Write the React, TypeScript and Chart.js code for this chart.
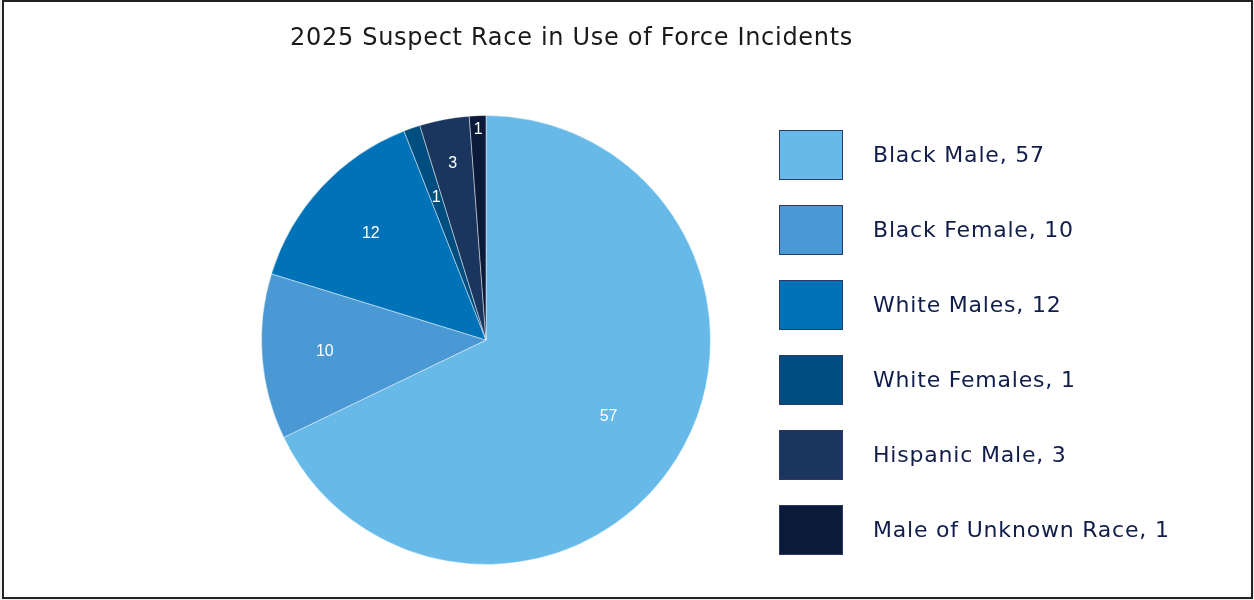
import React, { useEffect, useRef } from "react";
import { Chart, registerables } from "chart.js";

Chart.register(...registerables);

const categories = [
  "Black Male",
  "Black Female",
  "White Males",
  "White Females",
  "Hispanic Male",
  "Male of Unknown Race",
];
const counts = [57, 10, 12, 1, 3, 1];
const sliceColors = ["#67BAE8", "#4A98D4", "#0072B8", "#004D80", "#1B365E", "#0A1A38"];
const chartTitle = "2025 Suspect Race in Use of Force Incidents";

const labelRadiusFrac = [0.645, 0.72, 0.7, 0.67, 0.8, 0.94];

const FONT = '"DejaVu Sans", "Open Sans", sans-serif';

const customPlugin = {
  id: "customDecor",
  afterDraw(chart: any) {
    const ctx = chart.ctx;
    ctx.save();
    // title
    ctx.fillStyle = "#1a1a1a";
    ctx.font = `24px ${FONT}`;
    (ctx as any).letterSpacing = "0.7px";
    ctx.textAlign = "left";
    ctx.textBaseline = "middle";
    ctx.fillText(chartTitle, 290, 39);

    // slice value labels
    (ctx as any).letterSpacing = "0px";
    const meta = chart.getDatasetMeta(0);
    const values = chart.data.datasets[0].data as number[];
    ctx.font = '16px "Liberation Sans", Arial, sans-serif';
    ctx.fillStyle = "#ffffff";
    ctx.textAlign = "center";
    ctx.textBaseline = "middle";
    meta.data.forEach((arc: any, i: number) => {
      const p = arc.getProps(["x", "y", "startAngle", "endAngle", "outerRadius"], true);
      const mid = (p.startAngle + p.endAngle) / 2;
      const r = p.outerRadius * labelRadiusFrac[i];
      ctx.fillText(String(values[i]), p.x + Math.cos(mid) * r, p.y + Math.sin(mid) * r);
    });

    // legend
    const labels = chart.data.labels as string[];
    const colors = chart.data.datasets[0].backgroundColor as string[];
    ctx.font = `22px ${FONT}`;
    (ctx as any).letterSpacing = "0.8px";
    ctx.textAlign = "left";
    labels.forEach((lab: string, i: number) => {
      const y = 130 + i * 75;
      ctx.fillStyle = colors[i];
      ctx.fillRect(779, y, 64, 50);
      ctx.strokeStyle = "#2b3a6b";
      ctx.lineWidth = 1;
      ctx.strokeRect(779.5, y + 0.5, 63, 49);
      ctx.fillStyle = "#111d4a";
      ctx.fillText(`${lab}, ${values[i]}`, 873, y + 26);
    });
    ctx.restore();
  },
};

export default function App() {
  const ref = useRef<HTMLCanvasElement | null>(null);
  useEffect(() => {
    if (!ref.current) return;
    const chart = new Chart(ref.current, {
      type: "pie",
      data: {
        labels: categories,
        datasets: [
          {
            data: counts,
            backgroundColor: sliceColors,
            borderColor: "rgba(255,255,255,0.45)",
            borderWidth: 1,
          },
        ],
      },
      options: {
        responsive: false,
        animation: false,
        layout: { padding: { left: 261, right: 543, top: 115, bottom: 35 } },
        plugins: {
          legend: { display: false },
          title: { display: false },
          tooltip: { enabled: false },
        },
      },
      plugins: [customPlugin],
    });
    return () => chart.destroy();
  }, []);
  return (
    <div style={{ position: "absolute", left: 0, top: 0, width: 1254, height: 600, background: "#eeeeee" }}>
      <div
        style={{
          position: "absolute",
          left: 2,
          top: 0,
          width: 1251,
          height: 599,
          border: "2px solid #222222",
          boxSizing: "border-box",
          background: "#ffffff",
        }}
      />
      <canvas ref={ref} width={1254} height={600} style={{ position: "absolute", left: 0, top: 0 }} />
    </div>
  );
}
